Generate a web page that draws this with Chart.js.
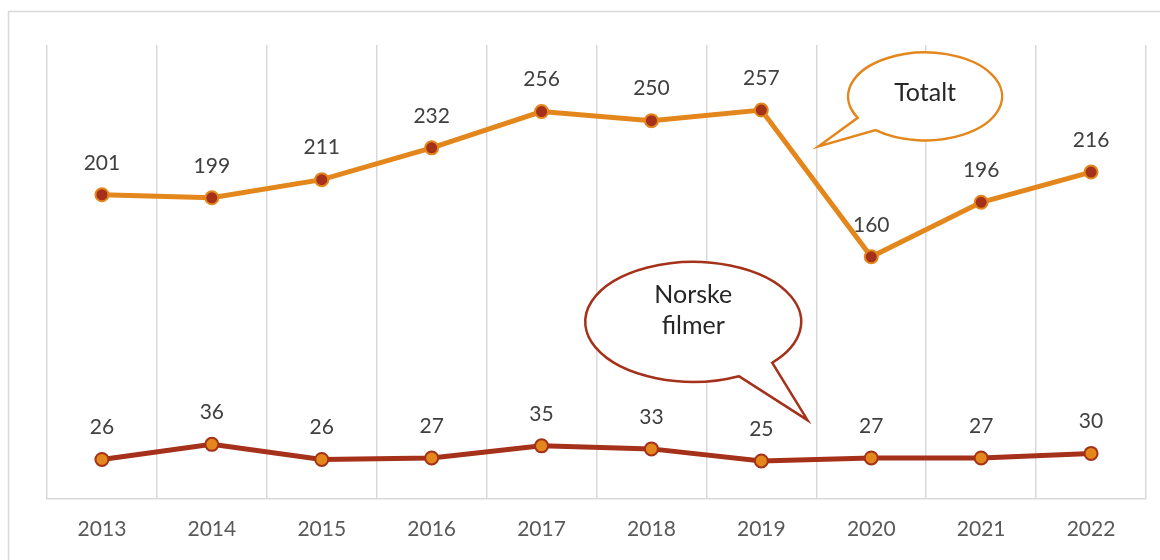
<!DOCTYPE html>
<html>
<head>
<meta charset="utf-8">
<script src="https://cdn.jsdelivr.net/npm/chart.js@4/dist/chart.umd.min.js"></script>
<style>
  html, body { margin: 0; padding: 0; background: #fff; }
  #wrap { width: 1160px; height: 560px; }
</style>
</head>
<body>
<div id="wrap"><canvas id="chart" width="1160" height="560"></canvas></div>
<script>
const years = ['2013', '2014', '2015', '2016', '2017', '2018', '2019', '2020', '2021', '2022'];
const totalt = [201, 199, 211, 232, 256, 250, 257, 160, 196, 216];
const norske = [26, 36, 26, 27, 35, 33, 25, 27, 27, 30];

const ORANGE = '#E3861B';
const DARKRED = '#A5311A';
const FONT = 'Lato, "Noto Sans", sans-serif';

// callouts anchored in data units (x = category index, y = value)
const callouts = [
  { lines: ['Totalt'], color: ORANGE, cx: 7.49, cy: 266, rx: 77, ry: 44, tipX: 6.52, tipY: 233, a1: 151, a2: 130, textDy: -3 },
  { lines: ['Norske', 'filmer'], color: DARKRED, cx: 5.38, cy: 117, rx: 108, ry: 60, tipX: 6.42, tipY: 52, a1: 65, a2: 43, textDy: -11 }
];

const labelsPlugin = {
  id: 'valueLabels',
  beforeDraw(chart) {
    const ctx = chart.ctx;
    ctx.save();
    ctx.strokeStyle = '#d9d9d9';
    ctx.lineWidth = 1.5;
    ctx.strokeRect(8.5, 11.5, 1170, 600);
    ctx.restore();
  },
  afterDatasetsDraw(chart) {
    const ctx = chart.ctx;
    ctx.save();
    ctx.font = '21px ' + FONT;
    ctx.fillStyle = '#404040';
    ctx.textAlign = 'center';
    ctx.textBaseline = 'middle';
    chart.data.datasets.forEach((ds, i) => {
      chart.getDatasetMeta(i).data.forEach((pt, j) => {
        ctx.fillText(String(ds.data[j]), pt.x, pt.y - 32);
      });
    });

    const xs = chart.scales.x, ys = chart.scales.y;
    callouts.forEach(c => {
      const cx = xs.getPixelForValue(c.cx), cy = ys.getPixelForValue(c.cy);
      const tx = xs.getPixelForValue(c.tipX), ty = ys.getPixelForValue(c.tipY);
      const r = Math.PI / 180;
      ctx.beginPath();
      ctx.ellipse(cx, cy, c.rx, c.ry, 0, c.a1 * r, (c.a2 + 360) * r);
      ctx.lineTo(tx, ty);
      ctx.closePath();
      ctx.fillStyle = '#fff';
      ctx.fill();
      ctx.lineWidth = 2.5;
      ctx.lineJoin = 'miter';
      ctx.strokeStyle = c.color;
      ctx.stroke();
      ctx.fillStyle = '#262626';
      ctx.font = '25px ' + FONT;
      const lh = 31;
      c.lines.forEach((t, k) => {
        ctx.fillText(t, cx, cy - (c.lines.length - 1) * lh / 2 + k * lh + c.textDy);
      });
    });
    ctx.restore();
  }
};

new Chart(document.getElementById('chart'), {
  type: 'line',
  data: {
    labels: years,
    datasets: [
      {
        label: 'Totalt',
        data: totalt,
        borderColor: ORANGE,
        borderWidth: 5,
        pointRadius: 6.5,
        pointBorderWidth: 2,
        pointBackgroundColor: DARKRED,
        pointBorderColor: ORANGE,
        tension: 0
      },
      {
        label: 'Norske filmer',
        data: norske,
        borderColor: DARKRED,
        borderWidth: 5,
        pointRadius: 6.5,
        pointBorderWidth: 2,
        pointBackgroundColor: ORANGE,
        pointBorderColor: DARKRED,
        tension: 0
      }
    ]
  },
  options: {
    responsive: false,
    animation: false,
    layout: { padding: { left: 47, right: 14, top: 45, bottom: 0 } },
    plugins: { legend: { display: false }, tooltip: { enabled: false } },
    scales: {
      x: {
        offset: true,
        grid: { offset: true, color: '#d9d9d9', lineWidth: 1.5, drawTicks: false },
        border: { color: '#d9d9d9', width: 1.5 },
        ticks: { color: '#595959', font: { family: FONT, size: 21 }, padding: 18 }
      },
      y: { display: false, min: 0, max: 300 }
    }
  },
  plugins: [labelsPlugin]
});
</script>
</body>
</html>
